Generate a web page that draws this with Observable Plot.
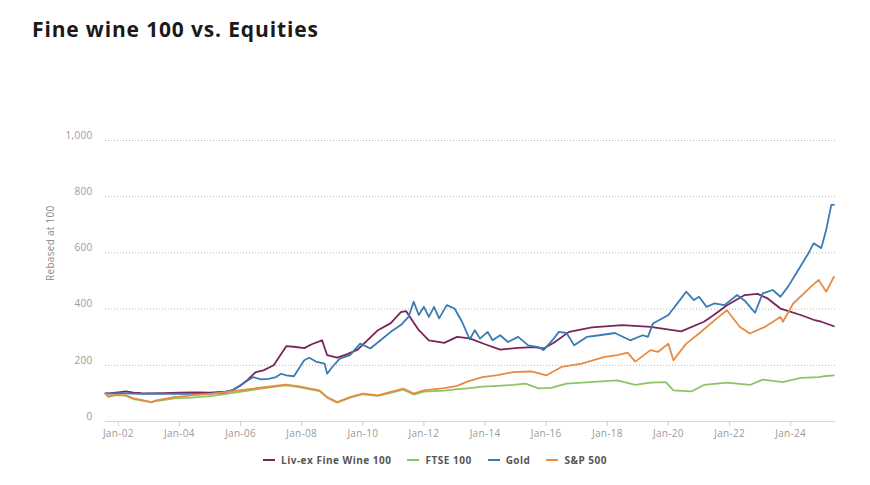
<!DOCTYPE html>
<html>
<head>
<meta charset="utf-8">
<script src="https://cdn.jsdelivr.net/npm/d3@7"></script>
<script src="https://cdn.jsdelivr.net/npm/@observablehq/plot@0.6"></script>
<style>
  html, body { margin: 0; padding: 0; background: #fff; }
  #wrap { position: relative; width: 870px; height: 485px; font-family: "Open Sans", sans-serif; }
  #title { position: absolute; left: 32px; top: 17px; font-size: 21px; line-height: 24px; letter-spacing: 0.85px; font-weight: 700; color: #1a1a1a; white-space: nowrap; }
  #chart { position: absolute; left: 0; top: 60px; }
  #legend { position: absolute; left: 0; top: 452px; width: 870px; text-align: center; font-size: 10px; line-height: 16px; letter-spacing: 0.5px; font-weight: 700; color: #555; white-space: nowrap; }
  #legend .item { display: inline-block; margin: 0 8px; }
  #legend .sw { display: inline-block; width: 12px; height: 2px; vertical-align: middle; margin-right: 6px; position: relative; top: -1px; }
  #chart svg text { letter-spacing: 0.3px; }
</style>
</head>
<body>
<div id="wrap">
  <div id="title">Fine wine 100 vs. Equities</div>
  <div id="chart"></div>
  <div id="legend"></div>
</div>
<script>
// ---- Data ----
const seriesNames = ["Liv-ex Fine Wine 100", "FTSE 100", "Gold", "S&P 500"];
const seriesColors = ["#7b2458", "#8cc46a", "#3a7bb5", "#e98b41"];

const wineDates = ["2001-08","2001-10","2002-01","2002-04","2002-07","2002-10","2003-01","2003-07","2004-01","2004-07","2005-01","2005-07","2005-10","2006-01","2006-04","2006-07","2006-10","2007-02","2007-05","2007-07","2007-10","2008-02","2008-05","2008-09","2008-11","2009-03","2009-07","2009-11","2010-07","2010-12","2011-04","2011-06","2011-11","2012-03","2012-09","2013-02","2013-07","2014-01","2014-07","2015-02","2015-08","2015-12","2016-04","2016-10","2017-07","2018-07","2019-06","2020-06","2021-03","2021-07","2021-12","2022-07","2022-12","2023-04","2023-09","2024-05","2024-10","2025-01","2025-06"];
const wineValues = [100,101,104,107,103,101,100,101,103,104,103,106,112,128,150,176,182,200,240,268,266,261,275,289,236,227,240,256,325,350,389,393,325,289,280,301,296,275,256,262,265,260,280,319,335,343,337,321,355,380,414,450,454,438,402,379,362,355,339];

const ftseDates = ["2001-08","2001-09","2001-12","2002-04","2002-07","2002-10","2003-02","2003-04","2003-11","2004-06","2005-02","2005-10","2006-06","2007-05","2007-07","2007-12","2008-08","2008-11","2009-03","2009-08","2010-01","2010-07","2010-12","2011-05","2011-09","2012-01","2012-09","2013-02","2013-06","2013-12","2014-06","2014-12","2015-05","2015-10","2016-03","2016-09","2017-06","2018-05","2018-12","2019-06","2019-12","2020-03","2020-10","2021-03","2021-12","2022-09","2023-02","2023-10","2024-05","2024-12","2025-03","2025-06"];
const ftseValues = [100,88,94,92,80,75,68,73,82,85,91,102,113,127,129,122,108,85,67,85,97,91,102,113,96,106,110,115,118,124,127,130,135,118,120,135,140,146,130,138,140,111,107,130,138,130,149,140,155,158,162,164];

const goldDates = ["2001-08","2001-10","2002-01","2002-04","2002-07","2002-10","2003-01","2003-07","2004-01","2004-07","2005-01","2005-07","2005-10","2006-02","2006-06","2006-09","2006-12","2007-03","2007-05","2007-07","2007-10","2008-02","2008-04","2008-07","2008-10","2008-11","2009-01","2009-04","2009-08","2009-12","2010-04","2010-08","2010-12","2011-04","2011-07","2011-09","2011-11","2012-01","2012-03","2012-05","2012-07","2012-10","2013-01","2013-04","2013-07","2013-09","2013-11","2014-02","2014-04","2014-07","2014-10","2015-02","2015-06","2015-10","2015-12","2016-04","2016-06","2016-09","2016-12","2017-05","2017-10","2018-04","2018-10","2019-03","2019-05","2019-07","2020-01","2020-04","2020-08","2020-11","2021-01","2021-04","2021-07","2021-11","2022-04","2022-07","2022-11","2023-02","2023-06","2023-09","2023-12","2024-04","2024-08","2024-10","2025-01","2025-03","2025-05","2025-06"];
const goldValues = [100,99,101,100,99,98,99,98,99,98,99,103,112,135,158,150,152,158,170,164,161,218,227,212,206,170,194,224,236,277,260,289,319,343,372,426,379,408,372,408,367,414,402,355,292,325,295,319,289,307,283,301,271,265,254,295,319,315,271,301,307,315,289,307,301,349,379,414,462,432,444,408,420,414,450,430,387,456,468,444,480,539,599,634,617,682,771,771];

const spDates = ["2001-08","2001-09","2001-12","2002-04","2002-07","2002-10","2003-02","2003-04","2003-11","2004-06","2005-02","2005-10","2006-06","2007-05","2007-07","2007-12","2008-08","2008-11","2009-03","2009-08","2010-01","2010-07","2010-12","2011-05","2011-09","2012-01","2012-09","2013-02","2013-06","2013-12","2014-06","2014-12","2015-07","2015-10","2016-01","2016-07","2017-03","2017-12","2018-05","2018-09","2018-12","2019-06","2019-09","2020-01","2020-03","2020-08","2021-01","2021-08","2021-12","2022-05","2022-09","2023-03","2023-09","2023-10","2024-02","2024-09","2024-12","2025-03","2025-06"];
const spValues = [100,89,95,93,82,77,69,75,87,93,99,108,117,129,131,125,111,87,69,87,99,93,105,117,99,111,119,127,142,158,165,176,178,172,164,194,206,230,236,245,213,254,248,277,218,277,313,367,396,337,313,337,372,355,420,480,504,462,515];

const yTicks = [0, 200, 400, 600, 800, 1000];
const xTickLabels = ["2002-01","2004-01","2006-01","2008-01","2010-01","2012-01","2014-01","2016-01","2018-01","2020-01","2022-01","2024-01"];
const xStart = "2001-08";
const xEnd = "2025-06-20";

// ---- Build table ----
const parse = d3.utcParse("%Y-%m");
const rows = [];
[[wineDates, wineValues], [ftseDates, ftseValues], [goldDates, goldValues], [spDates, spValues]].forEach(([ds, vs], i) => {
  ds.forEach((d, j) => rows.push({ series: seriesNames[i], date: parse(d), value: vs[j] }));
});
const xTicks = xTickLabels.map(parse);
const x0 = parse(xStart);
const x1 = d3.utcParse("%Y-%m-%d")(xEnd);
const fmt = d3.format(",");

const chart = Plot.plot({
  width: 870,
  height: 386,
  marginTop: 80,
  marginBottom: 25,
  marginLeft: 105,
  marginRight: 35,
  style: { fontFamily: "Open Sans, sans-serif", fontSize: "10px", background: "#fff" },
  x: { type: "utc", domain: [x0, x1], label: null },
  y: { domain: [0, 1000], label: null, axis: null },
  color: { domain: seriesNames, range: seriesColors },
  marks: [
    Plot.ruleY(yTicks.filter(d => d > 0), { stroke: "#b8b8b8", strokeDasharray: "1,2", strokeWidth: 1 }),
    Plot.ruleY([0], { stroke: "#d6d6d6", strokeWidth: 1 }),
    Plot.text(yTicks, { x: () => x0, y: d => d, text: d => fmt(d), textAnchor: "end", dx: -13, dy: -5, fill: "#9a9a9a", fontSize: 10 }),
    Plot.axisX({ ticks: xTicks, tickFormat: d3.utcFormat("%b-%y"), tickSize: 5, tickPadding: 3, stroke: "#cfcfcf", fill: "#9a9a9a", fontSize: 10, label: null }),
    Plot.text(["Rebased at 100"], { frameAnchor: "left", text: d => d, rotate: -90, dx: -55, fill: "#8a8a8a", fontSize: 10 }),
    Plot.line(rows, { x: "date", y: "value", z: "series", stroke: "series", strokeWidth: 1.8, strokeLinejoin: "round" })
  ]
});
document.getElementById("chart").appendChild(chart);

// ---- Legend ----
const legend = document.getElementById("legend");
seriesNames.forEach((name, i) => {
  const item = document.createElement("span");
  item.className = "item";
  const sw = document.createElement("span");
  sw.className = "sw";
  sw.style.background = seriesColors[i];
  item.appendChild(sw);
  item.appendChild(document.createTextNode(name));
  legend.appendChild(item);
});
</script>
</body>
</html>
